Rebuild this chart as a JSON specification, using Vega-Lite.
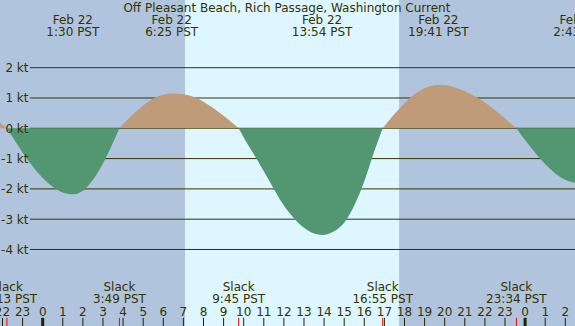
{
  "$schema": "https://vega.github.io/schema/vega-lite/v6.json",
  "width": 575,
  "height": 326,
  "autosize": {"type": "none"},
  "padding": 0,
  "background": "#b0c4de",
  "config": {"view": {"stroke": null, "fill": "#b0c4de"}, "font": "DejaVu Sans"},
  "datasets": {
    "daylight": [{"rise": 7.08, "set": 17.73}],
    "titles": [{"t": 12.15, "label": "Off Pleasant Beach, Rich Passage, Washington Current"}],
    "grid": [{"v": 2}, {"v": 1}, {"v": 0}, {"v": -1}, {"v": -2}, {"v": -3}, {"v": -4}],
    "hours": [
      {"t": -2, "label": "22"}, {"t": -1, "label": "23"}, {"t": 0, "label": "0"}, {"t": 1, "label": "1"},
      {"t": 2, "label": "2"}, {"t": 3, "label": "3"}, {"t": 4, "label": "4"}, {"t": 5, "label": "5"},
      {"t": 6, "label": "6"}, {"t": 7, "label": "7"}, {"t": 8, "label": "8"}, {"t": 9, "label": "9"},
      {"t": 10, "label": "10"}, {"t": 11, "label": "11"}, {"t": 12, "label": "12"}, {"t": 13, "label": "13"},
      {"t": 14, "label": "14"}, {"t": 15, "label": "15"}, {"t": 16, "label": "16"}, {"t": 17, "label": "17"},
      {"t": 18, "label": "18"}, {"t": 19, "label": "19"}, {"t": 20, "label": "20"}, {"t": 21, "label": "21"},
      {"t": 22, "label": "22"}, {"t": 23, "label": "23"}, {"t": 24, "label": "0"}, {"t": 25, "label": "1"},
      {"t": 26, "label": "2"}
    ],
    "flow": [
      {"seg": "a", "dir": "flood", "t": -2.124, "v": 0.18},
      {"seg": "a", "dir": "flood", "t": -2.0, "v": 0.12},
      {"seg": "a", "dir": "flood", "t": -1.78, "v": 0},
      {"seg": "b", "dir": "ebb", "t": -1.78, "v": 0},
      {"seg": "b", "dir": "ebb", "t": -1.5, "v": -0.29},
      {"seg": "b", "dir": "ebb", "t": -1.0, "v": -0.8},
      {"seg": "b", "dir": "ebb", "t": -0.5, "v": -1.25},
      {"seg": "b", "dir": "ebb", "t": 0.0, "v": -1.64},
      {"seg": "b", "dir": "ebb", "t": 0.5, "v": -1.93},
      {"seg": "b", "dir": "ebb", "t": 1.0, "v": -2.12},
      {"seg": "b", "dir": "ebb", "t": 1.5, "v": -2.18},
      {"seg": "b", "dir": "ebb", "t": 2.0, "v": -2.06},
      {"seg": "b", "dir": "ebb", "t": 2.5, "v": -1.7},
      {"seg": "b", "dir": "ebb", "t": 3.0, "v": -1.15},
      {"seg": "b", "dir": "ebb", "t": 3.5, "v": -0.47},
      {"seg": "b", "dir": "ebb", "t": 3.817, "v": 0},
      {"seg": "c", "dir": "flood", "t": 3.817, "v": 0},
      {"seg": "c", "dir": "flood", "t": 4.0, "v": 0.13},
      {"seg": "c", "dir": "flood", "t": 4.5, "v": 0.46},
      {"seg": "c", "dir": "flood", "t": 5.0, "v": 0.75},
      {"seg": "c", "dir": "flood", "t": 5.5, "v": 0.98},
      {"seg": "c", "dir": "flood", "t": 6.0, "v": 1.11},
      {"seg": "c", "dir": "flood", "t": 6.417, "v": 1.15},
      {"seg": "c", "dir": "flood", "t": 7.0, "v": 1.12},
      {"seg": "c", "dir": "flood", "t": 7.5, "v": 1.04},
      {"seg": "c", "dir": "flood", "t": 8.0, "v": 0.88},
      {"seg": "c", "dir": "flood", "t": 8.5, "v": 0.66},
      {"seg": "c", "dir": "flood", "t": 9.0, "v": 0.41},
      {"seg": "c", "dir": "flood", "t": 9.5, "v": 0.14},
      {"seg": "c", "dir": "flood", "t": 9.75, "v": 0},
      {"seg": "d", "dir": "ebb", "t": 9.75, "v": 0},
      {"seg": "d", "dir": "ebb", "t": 10.0, "v": -0.3},
      {"seg": "d", "dir": "ebb", "t": 10.5, "v": -0.85},
      {"seg": "d", "dir": "ebb", "t": 11.0, "v": -1.42},
      {"seg": "d", "dir": "ebb", "t": 11.5, "v": -2.0},
      {"seg": "d", "dir": "ebb", "t": 12.0, "v": -2.55},
      {"seg": "d", "dir": "ebb", "t": 12.5, "v": -2.97},
      {"seg": "d", "dir": "ebb", "t": 13.0, "v": -3.28},
      {"seg": "d", "dir": "ebb", "t": 13.5, "v": -3.47},
      {"seg": "d", "dir": "ebb", "t": 13.9, "v": -3.52},
      {"seg": "d", "dir": "ebb", "t": 14.5, "v": -3.4},
      {"seg": "d", "dir": "ebb", "t": 15.0, "v": -3.12},
      {"seg": "d", "dir": "ebb", "t": 15.5, "v": -2.55},
      {"seg": "d", "dir": "ebb", "t": 16.0, "v": -1.75},
      {"seg": "d", "dir": "ebb", "t": 16.5, "v": -0.75},
      {"seg": "d", "dir": "ebb", "t": 16.917, "v": 0},
      {"seg": "e", "dir": "flood", "t": 16.917, "v": 0},
      {"seg": "e", "dir": "flood", "t": 17.0, "v": 0.07},
      {"seg": "e", "dir": "flood", "t": 17.5, "v": 0.47},
      {"seg": "e", "dir": "flood", "t": 18.0, "v": 0.83},
      {"seg": "e", "dir": "flood", "t": 18.5, "v": 1.12},
      {"seg": "e", "dir": "flood", "t": 19.0, "v": 1.32},
      {"seg": "e", "dir": "flood", "t": 19.5, "v": 1.42},
      {"seg": "e", "dir": "flood", "t": 19.683, "v": 1.43},
      {"seg": "e", "dir": "flood", "t": 20.0, "v": 1.42},
      {"seg": "e", "dir": "flood", "t": 20.5, "v": 1.35},
      {"seg": "e", "dir": "flood", "t": 21.0, "v": 1.23},
      {"seg": "e", "dir": "flood", "t": 21.5, "v": 1.06},
      {"seg": "e", "dir": "flood", "t": 22.0, "v": 0.85},
      {"seg": "e", "dir": "flood", "t": 22.5, "v": 0.6},
      {"seg": "e", "dir": "flood", "t": 23.0, "v": 0.32},
      {"seg": "e", "dir": "flood", "t": 23.3, "v": 0.15},
      {"seg": "e", "dir": "flood", "t": 23.567, "v": 0},
      {"seg": "f", "dir": "ebb", "t": 23.567, "v": 0},
      {"seg": "f", "dir": "ebb", "t": 24.0, "v": -0.39},
      {"seg": "f", "dir": "ebb", "t": 24.5, "v": -0.81},
      {"seg": "f", "dir": "ebb", "t": 25.0, "v": -1.19},
      {"seg": "f", "dir": "ebb", "t": 25.5, "v": -1.49},
      {"seg": "f", "dir": "ebb", "t": 26.0, "v": -1.7},
      {"seg": "f", "dir": "ebb", "t": 26.483, "v": -1.8}
    ],
    "peaks": [
      {"t": 1.5, "label": "Feb 22|1:30 PST"},
      {"t": 6.417, "label": "Feb 22|6:25 PST"},
      {"t": 13.9, "label": "Feb 22|13:54 PST"},
      {"t": 19.683, "label": "Feb 22|19:41 PST"},
      {"t": 26.717, "label": "Feb 23|2:43 PST"}
    ],
    "slacks": [
      {"t": -1.78, "label": "Slack|22:13 PST"},
      {"t": 3.817, "label": "Slack|3:49 PST"},
      {"t": 9.75, "label": "Slack|9:45 PST"},
      {"t": 16.917, "label": "Slack|16:55 PST"},
      {"t": 23.567, "label": "Slack|23:34 PST"}
    ]
  },
  "layer": [
    {
      "data": {"name": "daylight"},
      "mark": {"type": "rect", "color": "#ddf6ff"},
      "encoding": {
        "x": {"field": "rise", "type": "quantitative", "scale": {"domain": [-2.124, 26.483], "nice": false, "zero": false}, "axis": null},
        "x2": {"field": "set"}
      }
    },
    {
      "data": {"name": "grid"},
      "mark": {"type": "rule", "color": "#333300", "strokeWidth": 1},
      "encoding": {
        "y": {"field": "v", "type": "quantitative", "scale": {"domain": [-6.525, 4.234], "nice": false, "zero": false},
          "axis": {"values": [-4,-3,-2,-1,0,1,2], "labelExpr": "datum.value + ' kt'", "orient": "left", "offset": -30,
            "domain": false, "ticks": false, "grid": false, "labelPadding": 2, "labelFont": "DejaVu Sans",
            "labelFontSize": 12, "labelColor": "#333300", "title": null, "zindex": 1}},
        "x": {"datum": -0.632, "type": "quantitative"},
        "x2": {"datum": 26.483}
      }
    },
    {
      "data": {"name": "flow"},
      "mark": {"type": "area", "interpolate": "monotone"},
      "encoding": {
        "x": {"field": "t", "type": "quantitative"},
        "y": {"field": "v", "type": "quantitative", "stack": null},
        "y2": {"datum": 0},
        "color": {"field": "dir", "type": "nominal", "scale": {"domain": ["ebb", "flood"], "range": ["#529672", "#bf9b7a"]}, "legend": null},
        "detail": {"field": "seg"}
      }
    },
    {
      "data": {"name": "hours"},
      "mark": {"type": "rule", "color": "#222200", "strokeWidth": 1},
      "encoding": {
        "x": {"field": "t", "type": "quantitative"},
        "y": {"datum": -6.256, "type": "quantitative"},
        "y2": {"datum": -6.525}
      }
    },
    {
      "data": {"name": "hours"},
      "transform": [{"filter": "datum.t % 24 === 0"}],
      "mark": {"type": "rule", "color": "#222200", "strokeWidth": 3},
      "encoding": {
        "x": {"field": "t", "type": "quantitative"},
        "y": {"datum": -6.256, "type": "quantitative"},
        "y2": {"datum": -6.525}
      }
    },
    {
      "data": {"name": "slacks"},
      "mark": {"type": "rule", "color": "#ff0000", "strokeWidth": 1},
      "encoding": {
        "x": {"field": "t", "type": "quantitative"},
        "y": {"datum": -6.256, "type": "quantitative"},
        "y2": {"datum": -6.525}
      }
    },
    {
      "data": {"name": "hours"},
      "mark": {"type": "text", "baseline": "middle", "align": "center", "font": "DejaVu Sans", "fontSize": 12, "color": "#333300"},
      "encoding": {
        "x": {"field": "t", "type": "quantitative"},
        "y": {"datum": -6.057, "type": "quantitative"},
        "text": {"field": "label"}
      }
    },
    {
      "data": {"name": "titles"},
      "mark": {"type": "text", "baseline": "middle", "align": "center", "font": "DejaVu Sans", "fontSize": 12, "color": "#333300"},
      "encoding": {
        "x": {"field": "t", "type": "quantitative"},
        "y": {"datum": 3.983, "type": "quantitative"},
        "text": {"field": "label"}
      }
    },
    {
      "data": {"name": "peaks"},
      "mark": {"type": "text", "lineBreak": "|", "lineHeight": 12, "baseline": "middle", "align": "center", "font": "DejaVu Sans", "fontSize": 12, "color": "#333300"},
      "encoding": {
        "x": {"field": "t", "type": "quantitative"},
        "y": {"datum": 3.587, "type": "quantitative"},
        "text": {"field": "label"}
      }
    },
    {
      "data": {"name": "slacks"},
      "mark": {"type": "text", "lineBreak": "|", "lineHeight": 12, "baseline": "middle", "align": "center", "font": "DejaVu Sans", "fontSize": 12, "color": "#333300"},
      "encoding": {
        "x": {"field": "t", "type": "quantitative"},
        "y": {"datum": -5.232, "type": "quantitative"},
        "text": {"field": "label"}
      }
    }
  ]
}
